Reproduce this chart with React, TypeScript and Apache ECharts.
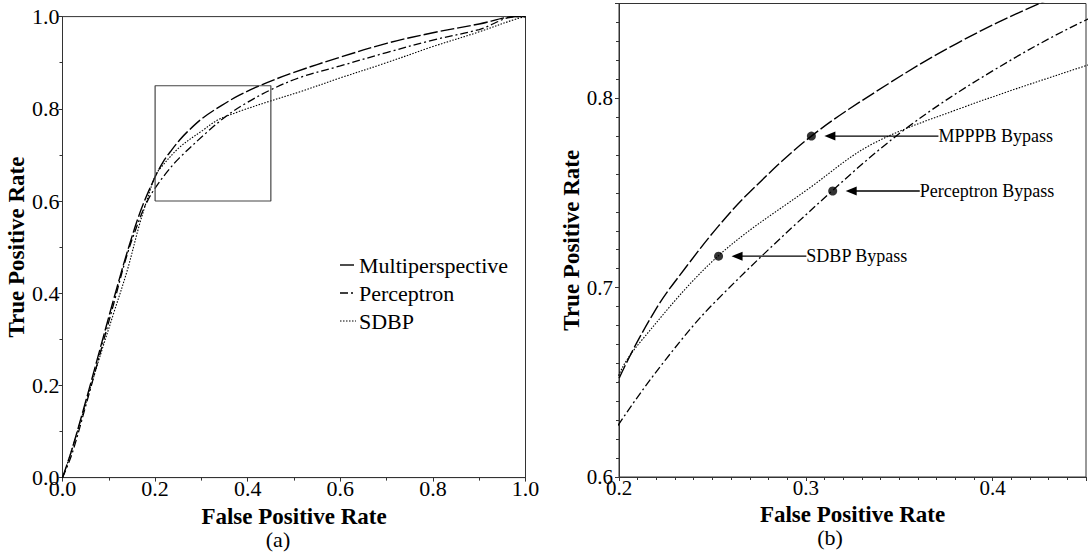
import React, { useEffect, useRef } from 'react';
import * as echarts from 'echarts';

// ROC curve data (False Positive Rate, True Positive Rate)
const multiFpr = [0, 0.02, 0.05, 0.08, 0.11, 0.14, 0.17, 0.2, 0.22, 0.236, 0.253, 0.27, 0.303, 0.344, 0.381, 0.424, 0.5, 0.6, 0.7, 0.8, 0.9, 0.98, 1.0];
const multiTpr = [0, 0.06, 0.165, 0.275, 0.385, 0.49, 0.582, 0.652, 0.689, 0.711, 0.7322, 0.7505, 0.78, 0.8075, 0.829, 0.8495, 0.879, 0.912, 0.942, 0.965, 0.984, 1.0, 1.0];

const percFpr = [0, 0.02, 0.05, 0.08, 0.11, 0.14, 0.17, 0.185, 0.2, 0.225, 0.251, 0.314, 0.355, 0.4, 0.45, 0.513, 0.6, 0.7, 0.8, 0.9, 0.98, 1.0];
const percTpr = [0, 0.05, 0.155, 0.265, 0.375, 0.485, 0.57, 0.603, 0.628, 0.662, 0.692, 0.751, 0.785, 0.8144, 0.8413, 0.868, 0.893, 0.922, 0.949, 0.972, 1.0, 1.0];

const sdbpFpr = [0, 0.02, 0.05, 0.08, 0.11, 0.14, 0.166, 0.185, 0.2, 0.212, 0.253, 0.303, 0.335, 0.381, 0.45, 0.513, 0.6, 0.7, 0.8, 0.9, 0.98, 1.0];
const sdbpTpr = [0, 0.06, 0.16, 0.26, 0.355, 0.45, 0.548, 0.61, 0.654, 0.672, 0.7166, 0.7533, 0.7755, 0.794, 0.8172, 0.837, 0.867, 0.9, 0.935, 0.967, 0.995, 1.0];

// zoom box drawn in panel (a)
const boxFpr = [0.2, 0.45, 0.45, 0.2, 0.2];
const boxTpr = [0.6, 0.6, 0.85, 0.85, 0.6];

// bypass operating points in panel (b)
const bypassLabels = ['MPPPB Bypass', 'Perceptron Bypass', 'SDBP Bypass'];
const bypassFpr = [0.303, 0.3144, 0.2533];
const bypassTpr = [0.78, 0.751, 0.7166];
const bypassLabelFpr = [0.371, 0.361, 0.3003];

const legendNames = ['Multiperspective', 'Perceptron', 'SDBP'];

const zip = (xs: number[], ys: number[]) => xs.map((x, i) => [x, ys[i]]);

const SERIF = 'Liberation Serif';
const AXIS_COLOR = '#333';
const TEXT_COLOR = '#000';

const dashMulti = [14, 3];
const dashPerc = [8, 3, 2, 3];
const dashSdbp = [1.5, 1.5];

export default function App() {
  const ref = useRef<HTMLDivElement>(null);

  useEffect(() => {
    const chart = echarts.init(ref.current!, null, { renderer: 'svg' });

    const fmt1 = (v: number) =>
      Math.abs(v * 10 - Math.round(v * 10)) < 1e-6 ? v.toFixed(1) : '';

    const axisCommon = () => ({
      type: 'value' as const,
      axisLine: { show: true, lineStyle: { color: AXIS_COLOR, width: 1 } },
      axisTick: { show: true, length: 4, lineStyle: { color: AXIS_COLOR } },
      splitLine: { show: false },
      nameLocation: 'middle' as const,
      nameTextStyle: { fontFamily: SERIF, fontWeight: 'bold' as const, fontSize: 23, color: TEXT_COLOR },
    });

    const lineSeries = (name: string, data: number[][], dash: number[], width: number, idx: number) => ({
      name,
      type: 'line' as const,
      xAxisIndex: idx,
      yAxisIndex: idx,
      data,
      showSymbol: false,
      smooth: 0.35,
      clip: true,
      silent: true,
      lineStyle: { color: '#000', width, type: dash },
    });

    const series: any[] = [];
    for (const idx of [0, 1]) {
      series.push(lineSeries(legendNames[0], zip(multiFpr, multiTpr), dashMulti, 1.4, idx));
      series.push(lineSeries(legendNames[1], zip(percFpr, percTpr), dashPerc, 1.3, idx));
      series.push(lineSeries(legendNames[2], zip(sdbpFpr, sdbpTpr), dashSdbp, 1.1, idx));
    }
    series.push({
      type: 'line',
      xAxisIndex: 0,
      yAxisIndex: 0,
      data: zip(boxFpr, boxTpr),
      showSymbol: false,
      silent: true,
      lineStyle: { color: '#444', width: 1.2 },
    });
    series.push({
      type: 'scatter',
      xAxisIndex: 1,
      yAxisIndex: 1,
      data: zip(bypassFpr, bypassTpr),
      symbolSize: 9,
      silent: true,
      itemStyle: { color: '#000' },
    });

    const lbl = (fontSize: number, margin: number) => ({
      formatter: fmt1, fontFamily: SERIF, fontSize, color: TEXT_COLOR, margin,
    });

    chart.setOption({
      animation: false,
      backgroundColor: '#fff',
      grid: [
        { left: 62.5, top: 16.6, width: 463, height: 461, show: true, borderColor: AXIS_COLOR, borderWidth: 1, backgroundColor: 'transparent' },
        { left: 619, top: 3.5, width: 473.75, height: 473.5, show: true, borderColor: AXIS_COLOR, borderWidth: 1, backgroundColor: 'transparent' },
      ],
      xAxis: [
        {
          ...axisCommon(),
          gridIndex: 0, min: 0, max: 1, interval: 0.2,
          minorTick: { show: true, splitNumber: 2, length: 3, lineStyle: { color: AXIS_COLOR } },
          axisLabel: lbl(22, 0),
          name: 'False Positive Rate', nameGap: 9,
        },
        {
          ...axisCommon(),
          gridIndex: 1, min: 0.2, max: 0.45, interval: 0.1,
          minorTick: { show: true, splitNumber: 10, length: 3, lineStyle: { color: AXIS_COLOR } },
          axisLabel: lbl(21, 0),
          name: 'False Positive Rate', nameGap: 9,
        },
      ],
      yAxis: [
        {
          ...axisCommon(),
          gridIndex: 0, min: 0, max: 1, interval: 0.2,
          minorTick: { show: true, splitNumber: 2, length: 3, lineStyle: { color: AXIS_COLOR } },
          axisLabel: lbl(22, 3),
          name: 'True Positive Rate', nameGap: 31,
        },
        {
          ...axisCommon(),
          gridIndex: 1, min: 0.6, max: 0.85, interval: 0.1,
          minorTick: { show: true, splitNumber: 10, length: 3, lineStyle: { color: AXIS_COLOR } },
          axisLabel: lbl(21, 6),
          name: 'True Positive Rate', nameGap: 29,
        },
      ],
      series,
    });

    const graphic: any[] = [];
    // legend for panel (a)
    const legendDash = [dashMulti, dashPerc, dashSdbp];
    const legendWidth = [1.4, 1.3, 1.1];
    legendNames.forEach((n, i) => {
      const y = 265 + i * 28;
      graphic.push({
        type: 'line',
        shape: { x1: 340, y1: y, x2: 356, y2: y },
        style: { stroke: '#000', lineWidth: legendWidth[i], lineDash: legendDash[i] },
        silent: true,
      });
      graphic.push({
        type: 'text',
        x: 359,
        y,
        style: { text: n, fontFamily: SERIF, fontSize: 22, fill: TEXT_COLOR, verticalAlign: 'middle' },
        silent: true,
      });
    });

    // annotations for panel (b)
    bypassLabels.forEach((lab, i) => {
      const p = chart.convertToPixel({ xAxisIndex: 1, yAxisIndex: 1 }, [bypassFpr[i], bypassTpr[i]]) as number[];
      const t = chart.convertToPixel({ xAxisIndex: 1, yAxisIndex: 1 }, [bypassLabelFpr[i], bypassTpr[i]]) as number[];
      const tip = p[0] + 13;
      const y = p[1];
      graphic.push({
        type: 'polygon',
        shape: { points: [[tip, y], [tip + 11, y - 4.5], [tip + 11, y + 4.5]] },
        style: { fill: '#000' },
        silent: true,
      });
      graphic.push({
        type: 'line',
        shape: { x1: tip + 10, y1: y, x2: t[0], y2: y },
        style: { stroke: '#000', lineWidth: 1.4 },
        silent: true,
      });
      graphic.push({
        type: 'text',
        x: t[0],
        y,
        style: { text: lab, fontFamily: SERIF, fontSize: 18, fill: TEXT_COLOR, verticalAlign: 'middle' },
        silent: true,
      });
    });

    // panel captions
    graphic.push({
      type: 'text', x: 278, y: 539,
      style: { text: '(a)', fontFamily: SERIF, fontSize: 22, fill: TEXT_COLOR, align: 'center', verticalAlign: 'middle' },
      silent: true,
    });
    graphic.push({
      type: 'text', x: 830, y: 537,
      style: { text: '(b)', fontFamily: SERIF, fontSize: 22, fill: TEXT_COLOR, align: 'center', verticalAlign: 'middle' },
      silent: true,
    });

    chart.setOption({ graphic });

    return () => chart.dispose();
  }, []);

  return (
    <div
      ref={ref}
      style={{ position: 'absolute', left: 0, top: 0, width: 1089, height: 552, overflow: 'hidden' }}
    />
  );
}
